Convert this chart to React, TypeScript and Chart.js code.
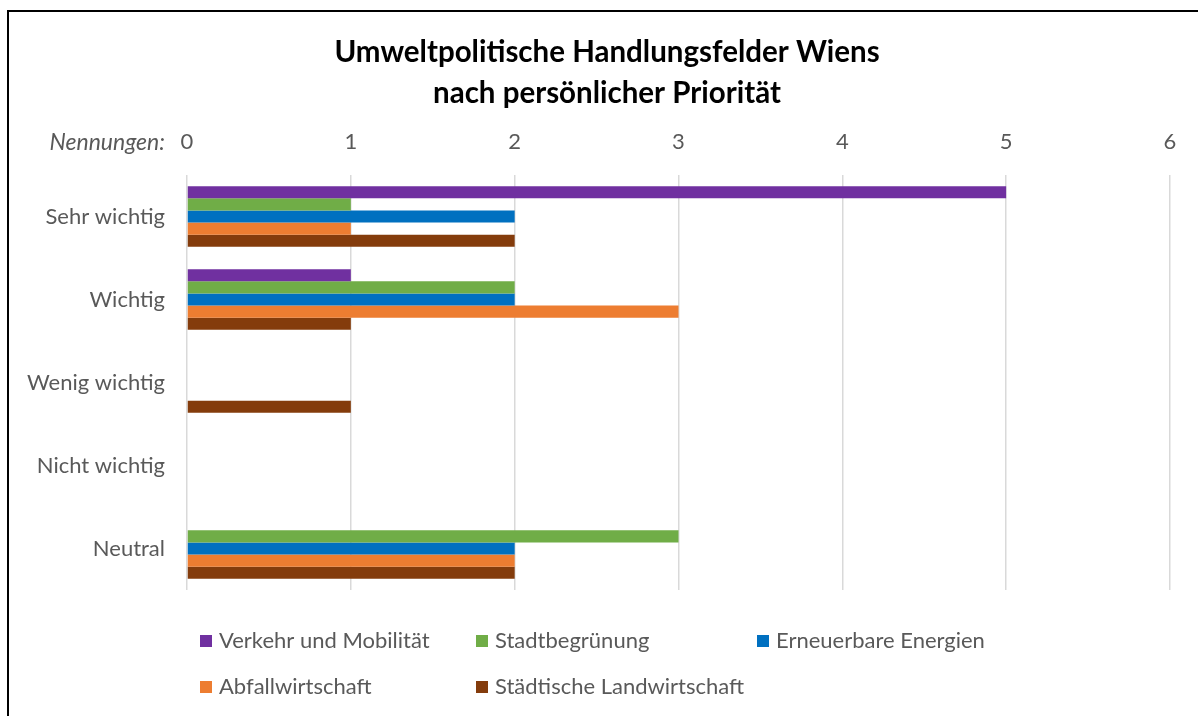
import React, { useEffect, useRef } from "react";
import { Chart, registerables } from "chart.js";

Chart.register(...registerables);

const categories = ["Sehr wichtig", "Wichtig", "Wenig wichtig", "Nicht wichtig", "Neutral"];
const seriesNames = [
  "Verkehr und Mobilität",
  "Stadtbegrünung",
  "Erneuerbare Energien",
  "Abfallwirtschaft",
  "Städtische Landwirtschaft",
];
const verkehr = [5, 1, 0, 0, 0];
const stadtbegruenung = [1, 2, 0, 0, 3];
const erneuerbare = [2, 2, 0, 0, 2];
const abfall = [1, 3, 0, 0, 2];
const landwirtschaft = [2, 1, 1, 0, 2];
const seriesColors = ["#7030A0", "#70AD47", "#0070C0", "#ED7D31", "#843C0C"];
const xMin = 0;
const xMax = 6;
const titleLines = ["Umweltpolitische Handlungsfelder Wiens", "nach persönlicher Priorität"];
const axisCaption = "Nennungen:";

const FONT = "Lato, 'Open Sans', sans-serif";
const GRAY = "#595959";
const LABEL_SIZE = 22;

const CANVAS_W = 1189;
const CANVAS_H = 704;

const overlayPlugin = {
  id: "overlay",
  afterDraw(chart: any) {
    const ctx: CanvasRenderingContext2D = chart.ctx;
    const area = chart.chartArea;
    ctx.save();
    // Title
    ctx.fillStyle = "#000000";
    ctx.font = `bold 29.5px ${FONT}`;
    ctx.textAlign = "center";
    ctx.textBaseline = "middle";
    const cx = 598;
    ctx.fillText(titleLines[0], cx, 40);
    ctx.fillText(titleLines[1], cx, 81);

    // Axis caption
    ctx.font = `italic 23px ${FONT}`;
    ctx.fillStyle = GRAY;
    ctx.textAlign = "right";
    ctx.fillText(axisCaption, area.left - 22, 131);

    // Legend (grid layout)
    const cols = [191, 467, 748];
    const rows = [629, 675];
    ctx.font = `${LABEL_SIZE}px ${FONT}`;
    ctx.textAlign = "left";
    chart.data.datasets.forEach((ds: any, i: number) => {
      const col = i % 3;
      const row = Math.floor(i / 3);
      const x = cols[col];
      const y = rows[row];
      ctx.fillStyle = ds.backgroundColor;
      ctx.fillRect(x, y - 6, 12, 12);
      ctx.fillStyle = GRAY;
      ctx.fillText(ds.label, x + 19, y);
    });
    ctx.restore();
  },
};

export default function App() {
  const canvasRef = useRef<HTMLCanvasElement | null>(null);

  useEffect(() => {
    if (!canvasRef.current) return;
    const seriesValues = [verkehr, stadtbegruenung, erneuerbare, abfall, landwirtschaft];
    const chart = new Chart(canvasRef.current, {
      type: "bar",
      data: {
        labels: categories,
        datasets: seriesNames.map((name, i) => ({
          label: name,
          data: seriesValues[i],
          backgroundColor: seriesColors[i],
          borderWidth: 0,
          categoryPercentage: 0.73,
          barPercentage: 1,
        })),
      },
      options: {
        indexAxis: "y",
        responsive: false,
        animation: false,
        devicePixelRatio: 1,
        layout: { padding: { top: 119, left: 0, right: 28, bottom: 126 } },
        plugins: {
          legend: { display: false },
          title: { display: false },
          tooltip: { enabled: false },
        },
        scales: {
          x: {
            position: "top",
            min: xMin,
            max: xMax,
            ticks: {
              stepSize: 1,
              color: GRAY,
              font: { family: FONT, size: LABEL_SIZE },
              padding: 20,
            },
            grid: { color: "#d9d9d9", lineWidth: 1.5, drawTicks: false },
            border: { display: false },
            afterFit: (scale: any) => {
              scale.height = 44;
            },
          },
          y: {
            ticks: {
              color: GRAY,
              font: { family: FONT, size: LABEL_SIZE },
              padding: 22,
            },
            grid: { display: false, drawTicks: false },
            border: { display: false },
            afterFit: (scale: any) => {
              scale.width = 178;
            },
          },
        },
      },
      plugins: [overlayPlugin],
    } as any);
    return () => chart.destroy();
  }, []);

  return (
    <div
      style={{
        position: "fixed",
        left: 7,
        top: 10,
        width: 1215,
        height: 730,
        border: "2px solid #000",
        boxSizing: "border-box",
        background: "#fff",
      }}
    >
      <canvas
        ref={canvasRef}
        width={CANVAS_W}
        height={CANVAS_H}
        style={{ display: "block", width: CANVAS_W, height: CANVAS_H }}
      />
    </div>
  );
}
